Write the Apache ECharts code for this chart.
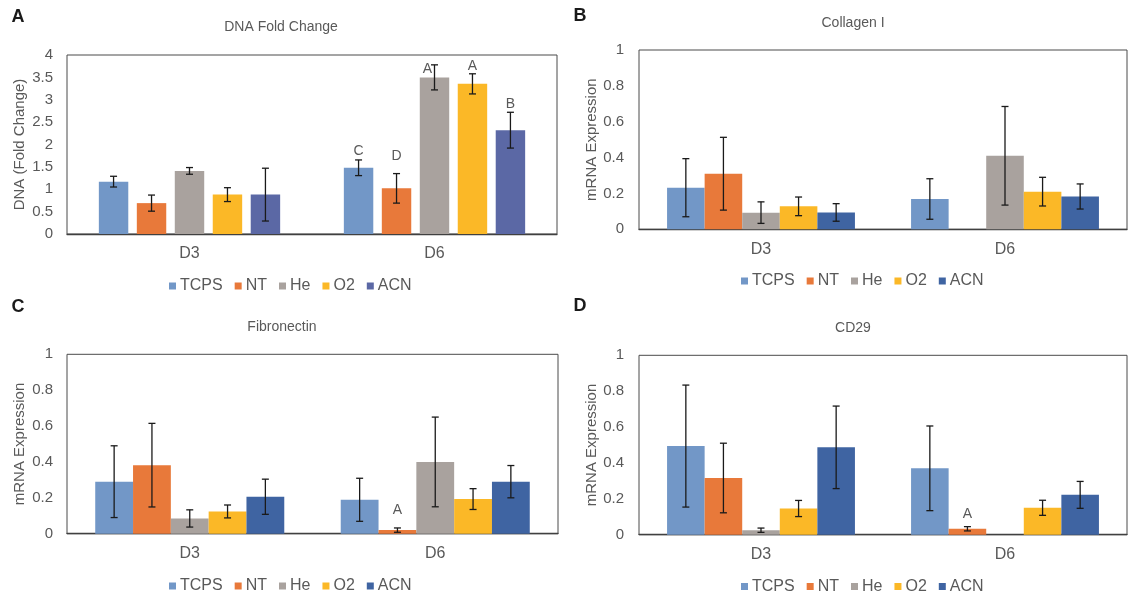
<!DOCTYPE html>
<html>
<head>
<meta charset="utf-8">
<script src="https://cdn.jsdelivr.net/npm/echarts@6/dist/echarts.min.js"></script>
<style>
html,body{margin:0;padding:0;background:#fff;}
#chart{width:1128px;height:595px;}
</style>
</head>
<body>
<div id="chart"></div>
<script>
// ---------- DATA ----------
const categories = ['D3', 'D6'];
const groups = ['TCPS', 'NT', 'He', 'O2', 'ACN'];

// Panel A: DNA fold change (rows = groups, cols = D3, D6)
const dnaMeans = [[1.17, 1.48], [0.69, 1.02], [1.41, 3.50], [0.88, 3.355], [0.88, 2.32]];
const dnaErrors = [[0.12, 0.175], [0.18, 0.33], [0.075, 0.28], [0.155, 0.225], [0.59, 0.40]];
const dnaLetters = [['', 'C'], ['', 'D'], ['', 'A'], ['', 'A'], ['', 'B']];
const dnaLetterY = [[0, 1.85], [0, 1.74], [0, 3.69], [0, 3.76], [0, 2.91]];
const dnaTicks = [0, 0.5, 1, 1.5, 2, 2.5, 3, 3.5, 4];

// Panel B: Collagen I
const colMeans = [[0.232, 0.169], [0.31, null], [0.093, 0.41], [0.128, 0.21], [0.094, 0.183]];
const colErrors = [[0.162, 0.113], [0.203, 0], [0.06, 0.275], [0.052, 0.08], [0.049, 0.07]];

// Panel C: Fibronectin
const fibMeans = [[0.29, 0.189], [0.382, 0.02], [0.085, 0.40], [0.124, 0.193], [0.206, 0.29]];
const fibErrors = [[0.2, 0.12], [0.233, 0.012], [0.048, 0.25], [0.036, 0.058], [0.098, 0.09]];
const fibLetters = [['', ''], ['', 'A'], ['', ''], ['', ''], ['', '']];
const fibLetterY = [[0, 0], [0, 0.13], [0, 0], [0, 0], [0, 0]];

// Panel D: CD29
const cdMeans = [[0.494, 0.37], [0.316, 0.033], [0.025, null], [0.146, 0.15], [0.487, 0.222]];
const cdErrors = [[0.34, 0.236], [0.194, 0.012], [0.012, 0], [0.045, 0.042], [0.23, 0.075]];
const cdLetters = [['', ''], ['', 'A'], ['', ''], ['', ''], ['', '']];
const cdLetterY = [[0, 0], [0, 0.115], [0, 0], [0, 0], [0, 0]];

const mrnaTicks = [0, 0.2, 0.4, 0.6, 0.8, 1];

// ---------- STYLE ----------
const FONT = 'Liberation Sans, Arial, sans-serif';
const TXT = '#595959';
const colorsA = ['#7297C7', '#E8793A', '#A9A29E', '#FBB827', '#5B68A5'];
const colorsB = ['#7297C7', '#E8793A', '#A9A29E', '#FBB827', '#3F64A2'];
// horizontal nudge (px) for letter labels, keyed "groupIndex-categoryIndex"
const letterNudgeA = {'2-1': -7};

const panels = [
  {means: dnaMeans, errs: dnaErrors, letters: dnaLetters, letterY: dnaLetterY, nudge: letterNudgeA, ticks: dnaTicks,
   colors: colorsA, catGap: 0.26, barGap: 0.29, yName: 'DNA (Fold Change)',
   grid: {left: 67, top: 55, width: 490, height: 179}, nameGap: 40, labelMargin: 14,
   title: 'DNA Fold Change', titleX: 281, titleY: 27, letter: 'A', letterX: 18, letterY0: 17,
   legendLeft: 164, legendTop: 273},
  {means: colMeans, errs: colErrors, letters: null, letterY: null, nudge: {}, ticks: mrnaTicks,
   colors: colorsB, catGap: 0.23, barGap: 0, yName: 'mRNA Expression',
   grid: {left: 639, top: 50, width: 488, height: 179.3}, nameGap: 40, labelMargin: 15,
   title: 'Collagen I', titleX: 853, titleY: 23, letter: 'B', letterX: 580, letterY0: 16,
   legendLeft: 736, legendTop: 268},
  {means: fibMeans, errs: fibErrors, letters: fibLetters, letterY: fibLetterY, nudge: {}, ticks: mrnaTicks,
   colors: colorsB, catGap: 0.23, barGap: 0, yName: 'mRNA Expression',
   grid: {left: 67, top: 354.3, width: 491, height: 179.4}, nameGap: 40, labelMargin: 14,
   title: 'Fibronectin', titleX: 282, titleY: 327, letter: 'C', letterX: 18, letterY0: 307,
   legendLeft: 164, legendTop: 573},
  {means: cdMeans, errs: cdErrors, letters: cdLetters, letterY: cdLetterY, nudge: {}, ticks: mrnaTicks,
   colors: colorsB, catGap: 0.23, barGap: 0, yName: 'mRNA Expression',
   grid: {left: 639, top: 355.3, width: 488, height: 179.4}, nameGap: 40, labelMargin: 15,
   title: 'CD29', titleX: 853, titleY: 328, letter: 'D', letterX: 580, letterY0: 306,
   legendLeft: 736, legendTop: 573.5}
];

const grids = [], xAxes = [], yAxes = [], series = [], legends = [], graphics = [];

panels.forEach((p, pi) => {
  grids.push(Object.assign({show: true, borderColor: '#4a4a4a', borderWidth: 1, backgroundColor: 'transparent'}, p.grid));
  xAxes.push({
    type: 'category', gridIndex: pi, data: categories,
    axisLine: {show: true, lineStyle: {color: '#404040', width: 1.3}},
    axisTick: {show: false},
    axisLabel: {color: TXT, fontSize: 16, fontFamily: FONT, margin: 12},
    splitLine: {show: false}
  });
  const tk = p.ticks;
  yAxes.push({
    type: 'value', gridIndex: pi, min: tk[0], max: tk[tk.length - 1], interval: tk[1] - tk[0],
    axisLine: {show: false}, axisTick: {show: false}, splitLine: {show: false},
    axisLabel: {color: TXT, fontSize: 15, fontFamily: FONT, margin: p.labelMargin},
    name: p.yName, nameLocation: 'middle', nameGap: p.nameGap,
    nameTextStyle: {color: TXT, fontSize: 15, fontFamily: FONT}
  });
  groups.forEach((g, gi) => {
    series.push({
      type: 'bar', name: g, xAxisIndex: pi, yAxisIndex: pi,
      data: p.means[gi],
      barGap: (p.barGap * 100) + '%', barCategoryGap: (p.catGap * 100) + '%',
      itemStyle: {color: p.colors[gi]},
      silent: true
    });
  });
  // error bars
  const errData = [];
  groups.forEach((g, gi) => {
    categories.forEach((c, ci) => {
      const m = p.means[gi][ci], e = p.errs[gi][ci];
      if (m != null && e > 0) errData.push([ci, gi, m, e]);
    });
  });
  const catGap = p.catGap, barGap = p.barGap, n = groups.length;
  series.push({
    type: 'custom', xAxisIndex: pi, yAxisIndex: pi, z: 5, silent: true,
    data: errData, encode: {x: 0, y: 2},
    renderItem: function (params, api) {
      const ci = api.value(0), gi = api.value(1), m = api.value(2), e = api.value(3);
      const band = api.size([1, 0])[0];
      const used = band * (1 - catGap);
      const w = used / (n + (n - 1) * barGap);
      const x = api.coord([ci, 0])[0] - used / 2 + gi * w * (1 + barGap) + w / 2;
      const yT = api.coord([ci, m + e])[1];
      const yB = api.coord([ci, m - e])[1];
      const cap = 3.5;
      const st = {stroke: '#1a1a1a', lineWidth: 1.3};
      return {type: 'group', children: [
        {type: 'line', shape: {x1: x, y1: yT, x2: x, y2: yB}, style: st},
        {type: 'line', shape: {x1: x - cap, y1: yT, x2: x + cap, y2: yT}, style: st},
        {type: 'line', shape: {x1: x - cap, y1: yB, x2: x + cap, y2: yB}, style: st}
      ]};
    }
  });
  // significance letters
  if (p.letters) {
    const lt = [];
    groups.forEach((g, gi) => {
      categories.forEach((c, ci) => {
        if (p.letters[gi][ci]) lt.push({ci: ci, gi: gi, y: p.letterY[gi][ci], t: p.letters[gi][ci],
          dx: p.nudge[gi + '-' + ci] || 0});
      });
    });
    series.push({
      type: 'custom', xAxisIndex: pi, yAxisIndex: pi, z: 6, silent: true,
      data: lt.map(d => [d.ci, d.y]), encode: {x: 0, y: 1},
      renderItem: function (params, api) {
        const d = lt[params.dataIndex];
        const band = api.size([1, 0])[0];
        const used = band * (1 - catGap);
        const w = used / (n + (n - 1) * barGap);
        const x = api.coord([d.ci, 0])[0] - used / 2 + d.gi * w * (1 + barGap) + w / 2 + d.dx;
        const y = api.coord([d.ci, d.y])[1];
        return {type: 'text', style: {text: d.t, x: x, y: y, align: 'center', verticalAlign: 'middle',
          fill: TXT, fontSize: 14, fontFamily: FONT}};
      }
    });
  }
  legends.push({
    left: p.legendLeft, top: p.legendTop, orient: 'horizontal',
    icon: 'rect', itemWidth: 7, itemHeight: 7, itemGap: 12, selectedMode: false,
    textStyle: {color: TXT, fontSize: 16, fontFamily: FONT, padding: [0, 0, 0, -1]},
    data: groups.map((g, gi) => ({name: g, itemStyle: {color: p.colors[gi]}}))
  });
  graphics.push({type: 'text', x: p.titleX, y: p.titleY, style: {text: p.title, align: 'center', verticalAlign: 'middle', fill: TXT, fontSize: 14, fontFamily: FONT}});
  graphics.push({type: 'text', x: p.letterX, y: p.letterY0, style: {text: p.letter, align: 'center', verticalAlign: 'middle', fill: '#1a1a1a', fontSize: 18, fontWeight: 'bold', fontFamily: FONT}});
});

const chart = echarts.init(document.getElementById('chart'), null, {renderer: 'canvas'});
chart.setOption({
  animation: false,
  backgroundColor: '#fff',
  grid: grids, xAxis: xAxes, yAxis: yAxes, series: series, legend: legends,
  graphic: graphics
});
</script>
</body>
</html>
